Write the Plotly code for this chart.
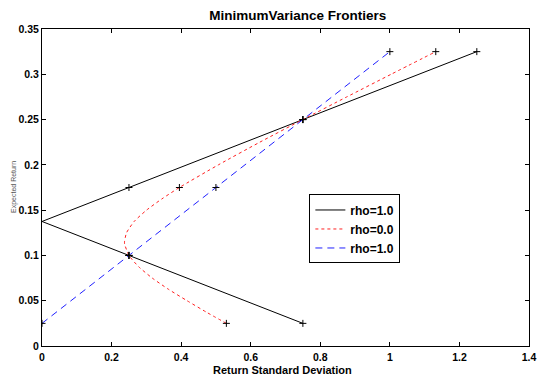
import plotly.graph_objects as go

# Frontier curves (return standard deviation, expected return)
sd_neg = [0.75, 0.25, 0.0, 0.25, 0.75, 1.25]
ret_neg = [0.025, 0.1, 0.1375, 0.175, 0.25, 0.325]

sd_zero = [0.530, 0.472, 0.417, 0.364, 0.317, 0.278, 0.25, 0.2375, 0.2372, 0.243, 0.265,
           0.3005, 0.345, 0.395, 0.507, 0.626, 0.75, 0.876, 1.0035, 1.132]
ret_zero = [0.025, 0.0375, 0.05, 0.0625, 0.075, 0.0875, 0.1, 0.1125, 0.115, 0.125, 0.1375,
            0.15, 0.1625, 0.175, 0.2, 0.225, 0.25, 0.275, 0.3, 0.325]

sd_pos = [0.0, 0.25, 0.5, 0.75, 1.0]
ret_pos = [0.025, 0.1, 0.175, 0.25, 0.325]

# Portfolio points marked with "+"
pts_neg_sd = [0.75, 0.25, 0.25, 0.75, 1.25]
pts_neg_ret = [0.025, 0.1, 0.175, 0.25, 0.325]
pts_zero_sd = [0.53, 0.25, 0.395, 0.75, 1.132]
pts_zero_ret = [0.025, 0.1, 0.175, 0.25, 0.325]
pts_pos_sd = [0.0, 0.25, 0.5, 0.75, 1.0]
pts_pos_ret = [0.025, 0.1, 0.175, 0.25, 0.325]

x_ticks = [0, 0.2, 0.4, 0.6, 0.8, 1.0, 1.2, 1.4]
x_tick_text = ["0", "0.2", "0.4", "0.6", "0.8", "1", "1.2", "1.4"]
y_ticks = [0, 0.05, 0.1, 0.15, 0.2, 0.25, 0.3, 0.35]
y_tick_text = ["0", "0.05", "0.1", "0.15", "0.2", "0.25", "0.3", "0.35"]

FONT = "Liberation Sans, Arial, Helvetica, sans-serif"

fig = go.Figure()

fig.add_trace(go.Scatter(x=sd_neg, y=ret_neg, mode="lines", name="rho=1.0",
                         line=dict(color="#000000", width=1)))
fig.add_trace(go.Scatter(x=sd_zero, y=ret_zero, mode="lines", name="rho=0.0",
                         line=dict(color="#ff2020", width=1, dash="3px,3px",
                                   shape="spline", smoothing=0.6)))
fig.add_trace(go.Scatter(x=sd_pos, y=ret_pos, mode="lines", name="rho=1.0",
                         line=dict(color="#2020ff", width=1, dash="7px,5px")))

for xs, ys in [(pts_neg_sd, pts_neg_ret), (pts_zero_sd, pts_zero_ret), (pts_pos_sd, pts_pos_ret)]:
    fig.add_trace(go.Scatter(x=xs, y=ys, mode="markers", showlegend=False,
                             marker=dict(symbol="cross-thin", size=5, color="#000000",
                                         line=dict(color="#000000", width=1))))

axis_common = dict(
    showline=True, linecolor="#000000", linewidth=1, mirror="ticks",
    ticks="inside", ticklen=4, tickcolor="#000000", tickwidth=1,
    showgrid=False, zeroline=False, automargin=False,
    tickfont=dict(family=FONT, size=10.5, color="#000000", weight="bold"),
)

fig.update_layout(
    width=539, height=377,
    margin=dict(l=42, r=10, t=29, b=31, autoexpand=False),
    paper_bgcolor="#ffffff", plot_bgcolor="#ffffff",
    title=dict(text="MinimumVariance Frontiers", x=0.525, xref="paper", xanchor="center",
               y=1 - 15 / 377, yanchor="middle",
               font=dict(family=FONT, size=13.5, color="#000000", weight="bold")),
    xaxis=dict(range=[0, 1.4], tickvals=x_ticks, ticktext=x_tick_text,
               ticklabelstandoff=1, **axis_common),
    yaxis=dict(range=[0, 0.35], tickvals=y_ticks, ticktext=y_tick_text, **axis_common),
    legend=dict(x=0.549, y=0.478, xanchor="left", yanchor="top",
                bgcolor="#ffffff", bordercolor="#000000", borderwidth=1,
                font=dict(family=FONT, size=12, color="#000000", weight="bold"),
                itemwidth=30, tracegroupgap=0),
    showlegend=True,
)

# Axis titles
fig.add_annotation(text="Return Standard Deviation", xref="paper", yref="paper",
                   x=0.494, y=-31 / 317, yanchor="bottom", showarrow=False, borderpad=0,
                   font=dict(family=FONT, size=11, color="#000000", weight="bold"))
fig.add_annotation(text="Expected Return", xref="paper", yref="paper",
                   x=-0.071, y=0.503, textangle=-90, showarrow=False,
                   font=dict(family=FONT, size=7, color="#555555"))

fig.write_html("out.html")
